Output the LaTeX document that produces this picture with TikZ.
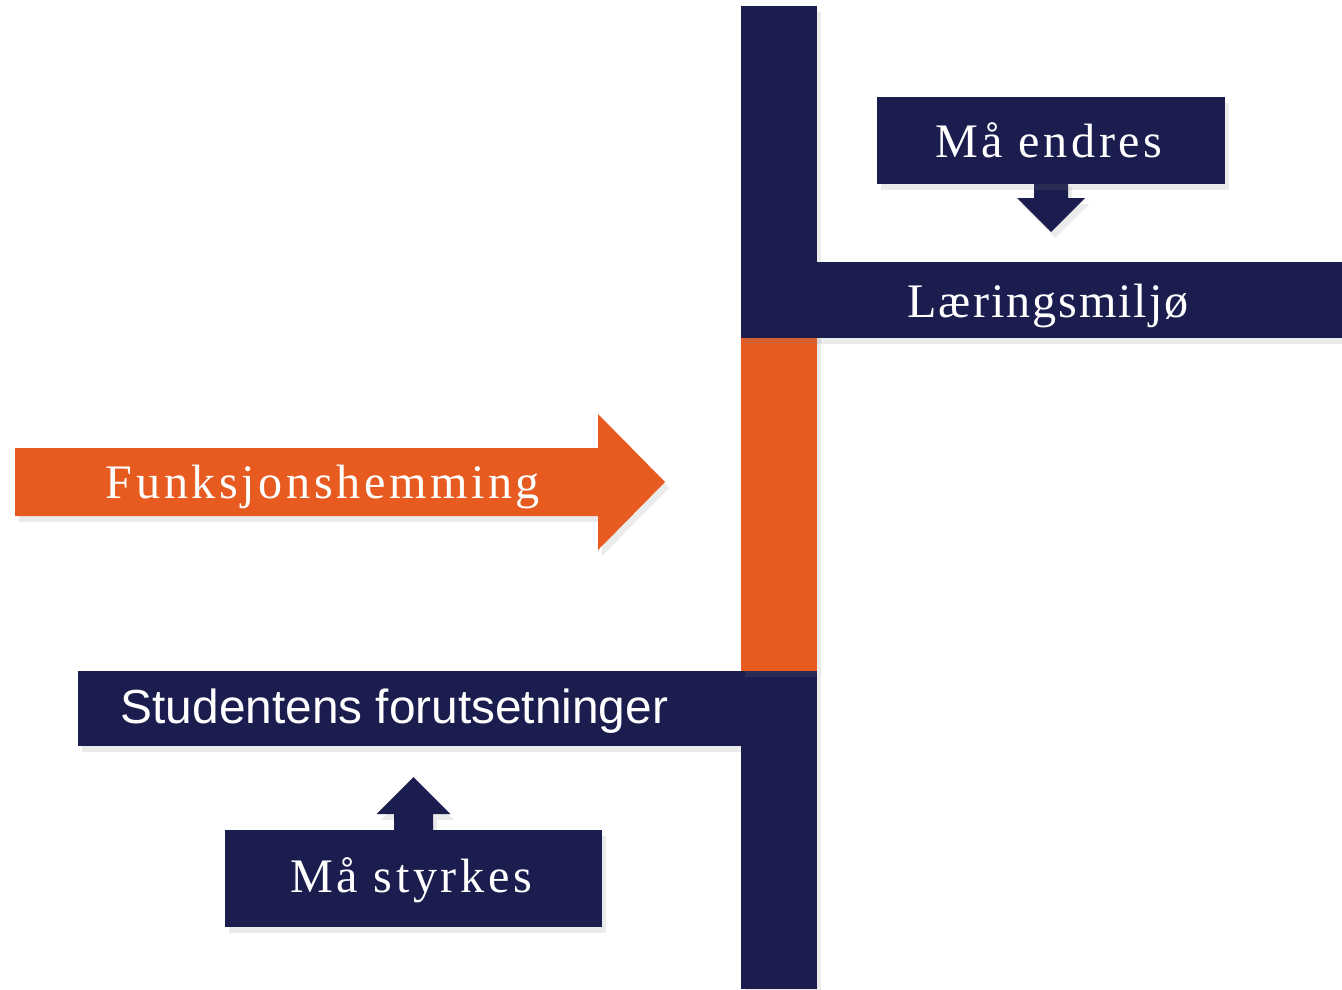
\documentclass[tikz,border=0pt]{standalone}
\usepackage{fontspec}
\setmainfont{Liberation Serif}
\setsansfont{Liberation Sans}
\newfontfamily\spacedfont[LetterSpace=7.5]{Liberation Serif}
\newfontfamily\tightfont[LetterSpace=4]{Liberation Serif}
\usepackage{tikz}
\usetikzlibrary{calc,shadows}

\definecolor{navy}{RGB}{27,29,79}
\definecolor{rust}{RGB}{232,91,32}

\tikzset{
  softshadow/.style={drop shadow={shadow xshift=0.4mm,shadow yshift=-0.6mm,opacity=0.16}},
  bar/.style={fill=navy,inner sep=0pt,softshadow},
  tagtext/.style={text=white,inner sep=0pt,anchor=base,
    font=\fontsize{13.7}{16}\spacedfont},
}

\begin{document}
\begin{tikzpicture}[x=0.1mm,y=-0.1mm]
\useasboundingbox (0,0) rectangle (1342,989);

 % lower cross bar, under the upright one
 \node[bar,minimum width=66.3mm,minimum height=7.5mm] (forut) at (409.5,708.5) {};
 \node[tagtext,anchor=base west,font=\fontsize{13.6}{16}\sffamily] at (120,723) {Studentens forutsetninger};

 % the upright bar
 \node[bar,minimum width=7.6mm,minimum height=33.2mm] (vtop) at (779,172) {};
 \node[bar,minimum width=7.6mm,minimum height=31.8mm] (vbot) at (779,830) {};
 \node[bar,fill=rust,minimum width=7.6mm,minimum height=33.3mm] (vmid) at (779,504.5) {};

 % upper cross bar
 \node[bar,minimum width=61.3mm,minimum height=7.6mm] (miljo) at (1047.5,300) {};
 \node[tagtext,font=\fontsize{13.7}{16}\tightfont] at (1048,317) {Læringsmiljø};

 % orange arrow
 \coordinate (tip) at (665,482);
 \fill[rust,softshadow] (15,448) -- (598,448) -- (598,414) -- (tip) -- (598,550) -- (598,516) -- (15,516) -- cycle;
 \node[tagtext] (funk) at (323,498) {Funksjonshemming};

 % callouts
 \coordinate (endres-s) at (1051,184);
 \fill[navy,softshadow] ($(endres-s)+(-17,-3)$) -- ++(0,17) -- ++(-17,0) -- ($(endres-s)+(0,48)$)
   -- ($(endres-s)+(34,14)$) -- ++(-17,0) -- ++(0,-17) -- cycle;
 \node[bar,minimum width=34.8mm,minimum height=8.7mm] (endres) at (1051,140.5) {};
 \node[tagtext] at (1049,157) {Må endres};

 \coordinate (styrkes-n) at (413.5,830);
 \fill[navy,softshadow] ($(styrkes-n)+(-19.5,3)$) -- ++(0,-19) -- ++(-17.5,0) -- ($(styrkes-n)+(0,-53)$)
   -- ($(styrkes-n)+(37,-16)$) -- ++(-17.5,0) -- ++(0,19) -- cycle;
 \node[bar,minimum width=37.7mm,minimum height=9.7mm] (styrkes) at (413.5,878.5) {};
 \node[tagtext] at (411,892) {Må styrkes};
\end{tikzpicture}
\end{document}
